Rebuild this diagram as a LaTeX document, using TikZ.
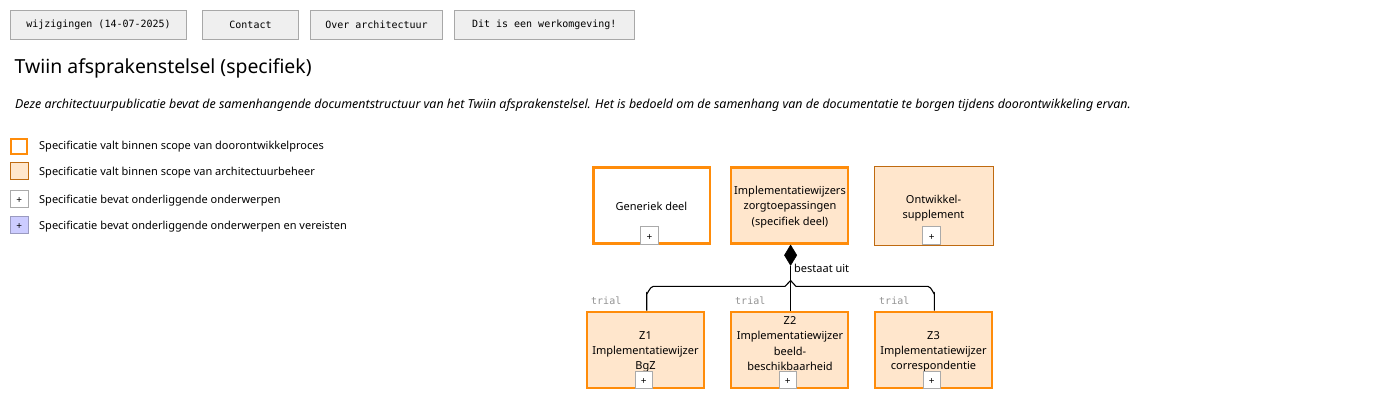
\documentclass[tikz,border=0pt]{standalone}
\usepackage{fontspec}
\setmainfont{Noto Sans}
\newfontfamily\monof{DejaVu Sans Mono}
\usetikzlibrary{shapes.geometric}
\definecolor{org}{HTML}{FF8C0A}
\definecolor{dorg}{HTML}{BF6A10}
\definecolor{peach}{HTML}{FFE6CC}
\definecolor{btnf}{HTML}{EFEFEF}
\definecolor{btnd}{HTML}{A8A8A8}
\definecolor{plusd}{HTML}{AAAAAA}
\definecolor{lav}{HTML}{CCCCFF}
\definecolor{lavd}{HTML}{9A9AC0}
\tikzset{
 btn/.style={draw=btnd,fill=btnf,line width=1pt,minimum height=29pt,inner sep=0pt,font=\monof\fontsize{10}{12}\selectfont,anchor=north west},
 box/.style={minimum width=116.4pt,minimum height=76pt,inner sep=0pt,anchor=north west},
 boxt/.style={inner sep=0pt,align=center,font=\fontsize{11}{15.2}\selectfont},
 proc/.style={box,draw=org,line width=2.2pt,fill=white},
 procf/.style={box,draw=org,line width=2.2pt,fill=peach},
 beh/.style={box,draw=dorg,line width=1pt,fill=peach,minimum width=119pt,minimum height=78.5pt},
 plusb/.style={draw=plusd,line width=1pt,fill=white,minimum size=17.6pt,inner sep=0pt,text height=9pt,text depth=0pt,font=\fontsize{10}{10}\selectfont,anchor=north west},
 legt/.style={anchor=west,inner sep=0pt,font=\fontsize{11}{12}\selectfont},
 trialt/.style={anchor=west,inner sep=0pt,text=gray!85,font=\monof\fontsize{10}{12}\selectfont},
 conn/.style={draw=black,line width=1.1pt},
}
\begin{document}
\begin{tikzpicture}[x=1pt,y=-1pt]
\useasboundingbox (0,0) rectangle (1389,400);
\fill[white] (0,0) rectangle (1389,400);
\node[btn,minimum width=176pt] (b1) at (10,10) {wijzigingen (14-07-2025)};
\node[btn,minimum width=96pt] (b2) at (202,10) {Contact};
\node[btn,minimum width=132pt] (b3) at (310,10) {Over architectuur};
\node[btn,minimum width=180.5pt] (b4) at (453.5,10) {Dit is een werkomgeving!};
\node[anchor=west,inner sep=0pt,font=\fontsize{19.4}{24}\selectfont] (title) at (14.5,68.5) {Twiin afsprakenstelsel (specifiek)};
\node[anchor=west,inner sep=0pt,font=\itshape\fontsize{12.42}{14}\selectfont] (intro) at (15,105) {Deze architectuurpublicatie bevat de samenhangende documentstructuur van het Twiin afsprakenstelsel. Het is bedoeld om de samenhang van de documentatie te borgen tijdens doorontwikkeling ervan.};
% legend
\node[draw=org,line width=2.2pt,fill=white,minimum width=16pt,minimum height=15pt,inner sep=0pt,anchor=north west] (l1) at (10,137.5) {};
\node[draw=dorg,line width=1pt,fill=peach,minimum width=18pt,minimum height=17pt,inner sep=0pt,anchor=north west] (l2) at (10,162) {};
\node[plusb,minimum height=17pt] (l3) at (10,190) {+};
\node[plusb,draw=lavd,fill=lav,minimum height=17pt] (l4) at (10,216) {+};
\node[legt] (t1) at (39,147) {Specificatie valt binnen scope van doorontwikkelproces};
\node[legt] (t2) at (39,172.5) {Specificatie valt binnen scope van architectuurbeheer};
\node[legt] (t3) at (39,200.5) {Specificatie bevat onderliggende onderwerpen};
\node[legt] (t4) at (39,226.5) {Specificatie bevat onderliggende onderwerpen en vereisten};
% top row
\node[proc] (g) at (592.3,166.3) {};
\node[procf] (i) at (730.2,166.3) {};
\node[beh] (o) at (874.3,166) {};
\node[boxt] (gt) at (651.5,206.5) {Generiek deel};
\node[boxt] (it) at (790,207) {Implementatiewijzers\\zorgtoepassingen\\(specifiek deel)};
\node[boxt] (ot) at (933.5,208) {Ontwikkel-\\supplement};
\node[plusb] (pg) at (640.3,226.3) {+};
\node[plusb] (po) at (922.3,226.3) {+};
% bottom row
\node[procf] (z1) at (586.2,310.5) {};
\node[procf] (z2) at (730.2,310.5) {};
\node[procf] (z3) at (874.2,310.5) {};
\node[boxt] (z1t) at (645.5,352) {Z1\\Implementatiewijzer\\BgZ};
\node[boxt] (z2t) at (790,343.5) {Z2\\Implementatiewijzer\\beeld-\\beschikbaarheid};
\node[boxt] (z3t) at (933.5,352) {Z3\\Implementatiewijzer\\correspondentie};
\node[plusb] (p1) at (634.5,370.5) {+};
\node[plusb] (p2) at (778.5,370.5) {+};
\node[plusb] (p3) at (922.5,370.5) {+};
\node[trialt] (tr1) at (591,300.5) {trial};
\node[trialt] (tr2) at (735,300.5) {trial};
\node[trialt] (tr3) at (879,300.5) {trial};
% connectors
\coordinate (dtop) at (790.6,244.7);
\node[diamond,fill=black,draw=black,line width=0.5pt,minimum width=12.5pt,minimum height=20.5pt,inner sep=0pt,aspect=0.6,anchor=north] (d) at (dtop) {};
\coordinate (hub) at (d.south |- 0,280.5);
\draw[conn] (d.south) -- (d.south |- z2.north);
\draw[conn] (646.7,310.5) -- (646.7,293) to[out=-90,in=180] (653.2,286.4) -- (785,286.4) -- (hub) -- (796,286.4) -- (928,286.4) to[out=0,in=-90] (934.4,293) -- (934.4,310.5);
\node[anchor=west,inner sep=0pt,font=\fontsize{11}{12}\selectfont] (lab) at (794,268) {bestaat uit};
\end{tikzpicture}
\end{document}
